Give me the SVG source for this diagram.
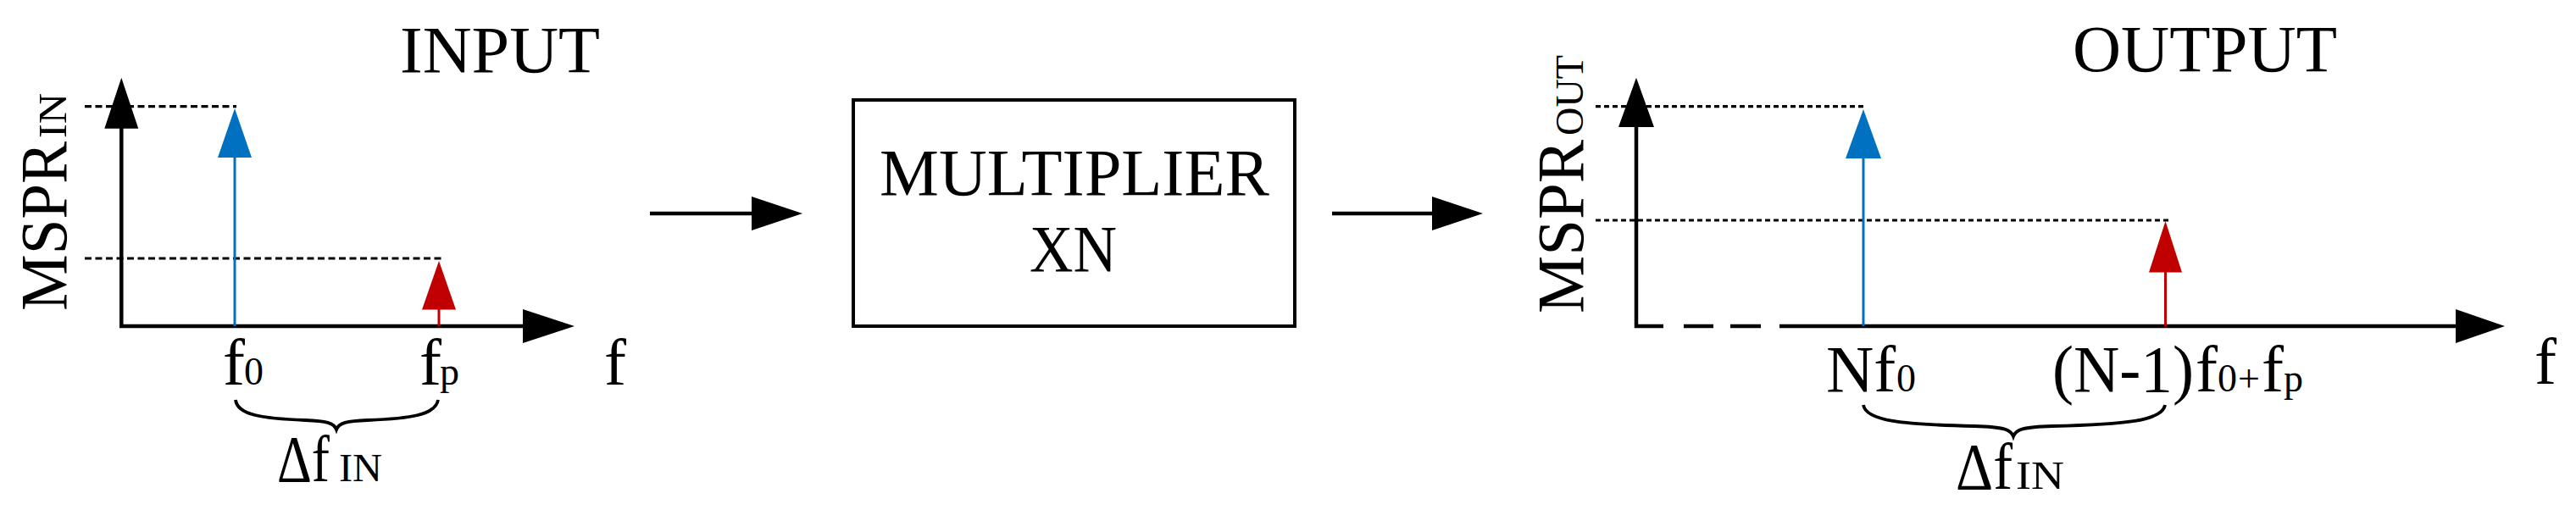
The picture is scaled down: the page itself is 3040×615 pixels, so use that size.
<svg xmlns="http://www.w3.org/2000/svg" width="3040" height="615" viewBox="0 0 3040 615">
<style>
.t{font-family:"Liberation Serif","Times New Roman",serif;font-size:78px;fill:#000}
.s{font-family:"Liberation Serif","Times New Roman",serif;font-size:46px;fill:#000}
.ax{stroke:#000;stroke-width:4.5;fill:none}
.dash{stroke:#000;stroke-width:3.2;fill:none;stroke-dasharray:8 4.5}
.dot{stroke:#000;stroke-width:3.2;fill:none;stroke-dasharray:6 4}
.blue{stroke:#0070C0;stroke-width:3;fill:none}
.red{stroke:#C00000;stroke-width:3;fill:none}
.brace{stroke:#000;stroke-width:3.8;fill:none}
.hb{fill:#000}
.hblue{fill:#0070C0}
.hred{fill:#C00000}
</style>
<rect width="3040" height="615" fill="#fff"/>

<g id="input-plot">
  <line class="dash" x1="100" y1="125.7" x2="279" y2="125.7"/>
  <line class="dash" x1="100" y1="305" x2="521" y2="305"/>
  <line class="ax" x1="143.3" y1="387" x2="143.3" y2="150"/>
  <polygon class="hb" points="143.3,91.7 123.3,151.7 163.3,151.7"/>
  <line class="ax" x1="141" y1="385" x2="620" y2="385"/>
  <polygon class="hb" points="678,385 617,365 617,405"/>
  <line class="blue" x1="277" y1="385" x2="277" y2="185"/>
  <polygon class="hblue" points="277,128 257,186 297,186"/>
  <line class="red" x1="518" y1="385" x2="518" y2="364"/>
  <polygon class="hred" points="518,308 498,365.5 538,365.5"/>
  <text class="t" x="472" y="85" textLength="236" lengthAdjust="spacingAndGlyphs">INPUT</text>
  <g transform="translate(78,367) rotate(-90)">
    <text class="t" x="0" y="0" textLength="200" lengthAdjust="spacingAndGlyphs">MSPR</text>
    <text class="s" x="204" y="0" textLength="53" lengthAdjust="spacingAndGlyphs">IN</text>
  </g>
  <text class="t" x="263" y="454">f</text>
  <text class="s" x="288" y="454">0</text>
  <text class="t" x="495" y="454">f</text>
  <text class="s" x="519" y="454">p</text>
  <text class="t" x="713" y="454">f</text>
  <path class="brace" d="M278,472 C280,490 310,494 360,496 C385,497 394,499 397,507 C400,499 409,497 434,496 C484,494 514,490 517,472"/>
  <text class="t" x="327" y="568" textLength="62" lengthAdjust="spacingAndGlyphs">Δf</text>
  <text class="s" x="400" y="568" textLength="51" lengthAdjust="spacingAndGlyphs">IN</text>
</g>

<g id="multiplier">
  <rect x="1007" y="118" width="521" height="267" fill="none" stroke="#000" stroke-width="4"/>
  <text class="t" x="1038" y="230" textLength="460" lengthAdjust="spacingAndGlyphs">MULTIPLIER</text>
  <text class="t" x="1215" y="320" textLength="103" lengthAdjust="spacingAndGlyphs">XN</text>
</g>

<g id="output-plot">
  <line class="dot" x1="1883" y1="125.7" x2="2201" y2="125.7"/>
  <line class="dot" x1="1883" y1="260" x2="2559" y2="260"/>
  <line class="ax" x1="1931" y1="387" x2="1931" y2="149"/>
  <polygon class="hb" points="1931,91.7 1910,150 1952,150"/>
  <line class="ax" x1="1929" y1="385" x2="1963" y2="385"/>
  <line class="ax" x1="1987" y1="385" x2="2022" y2="385"/>
  <line class="ax" x1="2042" y1="385" x2="2078" y2="385"/>
  <line class="ax" x1="2100" y1="385" x2="2900" y2="385"/>
  <polygon class="hb" points="2956,385 2898,365 2898,405"/>
  <line class="blue" x1="2199" y1="385" x2="2199" y2="186"/>
  <polygon class="hblue" points="2199,129 2178,187 2220,187"/>
  <line class="red" x1="2555.5" y1="385" x2="2555.5" y2="320"/>
  <polygon class="hred" points="2555.5,261 2536,321.5 2575,321.5"/>
  <text class="t" x="2446" y="84" textLength="312" lengthAdjust="spacingAndGlyphs">OUTPUT</text>
  <g transform="translate(1868,370) rotate(-90)">
    <text class="t" x="0" y="0" textLength="205" lengthAdjust="spacingAndGlyphs">MSPR</text>
    <text class="s" x="210" y="0" textLength="95" lengthAdjust="spacingAndGlyphs">OUT</text>
  </g>
  <text class="t" x="2155" y="462">Nf</text>
  <text class="s" x="2238" y="462">0</text>
  <text class="t" x="2422" y="462" textLength="167" lengthAdjust="spacingAndGlyphs">(N-1)</text>
  <text class="t" x="2591" y="462">f</text>
  <text class="s" x="2617" y="462">0</text>
  <text class="s" x="2641" y="462">+</text>
  <text class="t" x="2669" y="462">f</text>
  <text class="s" x="2695" y="462">p</text>
  <text class="t" x="2991" y="453">f</text>
  <path class="brace" d="M2199,478 C2202,497 2245,501 2330,503 C2365,504 2373,507 2376,515 C2379,507 2387,504 2422,503 C2507,501 2552,497 2555,478"/>
  <text class="t" x="2308" y="577" textLength="67" lengthAdjust="spacingAndGlyphs">Δf</text>
  <text class="s" x="2379" y="577" textLength="57" lengthAdjust="spacingAndGlyphs">IN</text>
</g>

<g id="connectors">
  <line class="ax" x1="767" y1="252" x2="890" y2="252"/>
  <polygon class="hb" points="947,252 887,232 887,272"/>
  <line class="ax" x1="1572" y1="252" x2="1693" y2="252"/>
  <polygon class="hb" points="1750,252 1690,232 1690,272"/>
</g>
</svg>
